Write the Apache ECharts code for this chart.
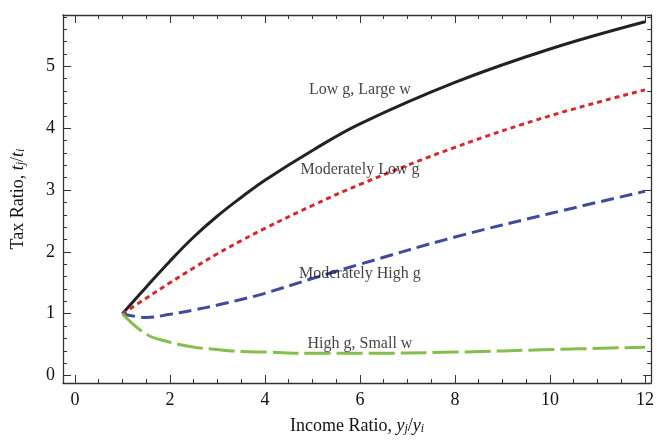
<!DOCTYPE html>
<html>
<head>
<meta charset="utf-8">
<script src="https://cdn.jsdelivr.net/npm/echarts@6/dist/echarts.min.js"></script>
<style>
  html, body { margin: 0; padding: 0; background: #fff; }
  #chart { width: 657px; height: 440px; }
</style>
</head>
<body>
<div id="chart"></div>
<script>
// values
const xs = [1, 1.5, 2, 2.5, 3, 3.5, 4, 5, 6, 8, 10, 12]
const lowG = [1, 1.43, 1.85, 2.24, 2.58, 2.88, 3.16, 3.64, 4.07, 4.74, 5.28, 5.72]
const modLowG = [1, 1.25, 1.5, 1.74, 1.97, 2.18, 2.38, 2.75, 3.09, 3.69, 4.2, 4.62]
const modHighG = [1, 0.94, 0.99, 1.06, 1.14, 1.23, 1.33, 1.57, 1.8, 2.24, 2.62, 2.98]
const highG = [1, 0.67, 0.54, 0.46, 0.42, 0.39, 0.38, 0.36, 0.36, 0.38, 0.42, 0.46]

const xMajor = [0, 2, 4, 6, 8, 10, 12]
const xMinor = [0.5, 1, 1.5, 2.5, 3, 3.5, 4.5, 5, 5.5, 6.5, 7, 7.5, 8.5, 9, 9.5, 10.5, 11, 11.5]
const yMajor = [0, 1, 2, 3, 4, 5]
const yMinor = [0.2, 0.4, 0.6, 0.8, 1.2, 1.4, 1.6, 1.8, 2.2, 2.4, 2.6, 2.8, 3.2, 3.4, 3.6, 3.8, 4.2, 4.4, 4.6, 4.8, 5.2, 5.4, 5.6, 5.8]

const noteX = [6, 6, 6, 6]
const noteY = [4.62, 3.32, 1.64, 0.51]
const noteText = ['Low g, Large w', 'Moderately Low g', 'Moderately High g', 'High g, Small w']

const font = '"Liberation Serif", "DejaVu Serif", serif'
const frame = '#333'
const xMin = -0.25, xMax = 12.13, yMin = -0.12, yMax = 5.83

function pairs(a, b) {
  return a.map((v, i) => [v, b[i]])
}

function makeX(pos, ticks, len, withLine, withLabel) {
  return {
    type: 'value', position: pos, min: xMin, max: xMax,
    splitLine: { show: false },
    axisLine: { show: withLine, onZero: false, lineStyle: { color: frame, width: 1.3 } },
    axisTick: { show: true, inside: true, length: len, customValues: ticks, lineStyle: { color: frame, width: 1 } },
    axisLabel: { show: withLabel, customValues: xMajor, color: '#111', fontFamily: font, fontSize: 18, margin: 8 }
  }
}

function makeY(pos, ticks, len, withLine, withLabel) {
  return {
    type: 'value', position: pos, min: yMin, max: yMax,
    splitLine: { show: false },
    axisLine: { show: withLine, onZero: false, lineStyle: { color: frame, width: 1.3 } },
    axisTick: { show: true, inside: true, length: len, customValues: ticks, lineStyle: { color: frame, width: 1 } },
    axisLabel: { show: withLabel, customValues: yMajor, color: '#111', fontFamily: font, fontSize: 18, margin: 8 }
  }
}

const nameRich = {
  i: { fontFamily: font, fontSize: 18, fontStyle: 'italic', color: '#111' },
  s: { fontFamily: font, fontSize: 12, fontStyle: 'italic', color: '#111', verticalAlign: 'bottom', padding: [6, 0, 0, 0] },
  n: { fontFamily: font, fontSize: 18, color: '#111' }
}

const xAxes = [
  makeX('bottom', xMajor, 8, true, true),
  makeX('bottom', xMinor, 4, false, false),
  makeX('top', xMajor, 8, true, false),
  makeX('top', xMinor, 4, false, false)
]
xAxes[0].name = 'Income Ratio, {i|y}{s|j}{n|/}{i|y}{s|i}'
xAxes[0].nameLocation = 'middle'
xAxes[0].nameGap = 34
xAxes[0].nameTextStyle = { fontFamily: font, fontSize: 18, color: '#111', rich: nameRich }

const yAxes = [
  makeY('left', yMajor, 8, true, true),
  makeY('left', yMinor, 4, false, false),
  makeY('right', yMajor, 8, true, false),
  makeY('right', yMinor, 4, false, false)
]
yAxes[0].name = 'Tax Ratio, {i|t}{s|j}{n|/}{i|t}{s|i}'
yAxes[0].nameLocation = 'middle'
yAxes[0].nameGap = 36
yAxes[0].nameTextStyle = { fontFamily: font, fontSize: 18, color: '#111', rich: nameRich }

function lineSeries(name, ys, color, dash) {
  return {
    name: name, type: 'line', smooth: 0.4, symbol: 'none',
    data: pairs(xs, ys),
    lineStyle: { color: color, width: 3, type: dash, cap: 'butt' },
    z: 3
  }
}

const chart = echarts.init(document.getElementById('chart'), null, { renderer: 'canvas' })
chart.setOption({
  backgroundColor: '#fff',
  animation: false,
  grid: { left: 63, right: 2, top: 15, bottom: 56 },
  xAxis: xAxes,
  yAxis: yAxes,
  series: [
    lineSeries('Low g, Large w', lowG, '#222222', 'solid'),
    lineSeries('Moderately Low g', modLowG, '#d22b2f', [5, 4]),
    lineSeries('Moderately High g', modHighG, '#3e4b9e', [13, 6]),
    lineSeries('High g, Small w', highG, '#84bf4b', [26, 6]),
    {
      type: 'scatter', symbolSize: 0, z: 5,
      data: noteX.map((x, i) => ({ value: [x, noteY[i]], label: { formatter: noteText[i] } })),
      label: { show: true, position: 'inside', fontFamily: font, fontSize: 16, color: '#111' },
      silent: true
    }
  ]
})
</script>
</body>
</html>
